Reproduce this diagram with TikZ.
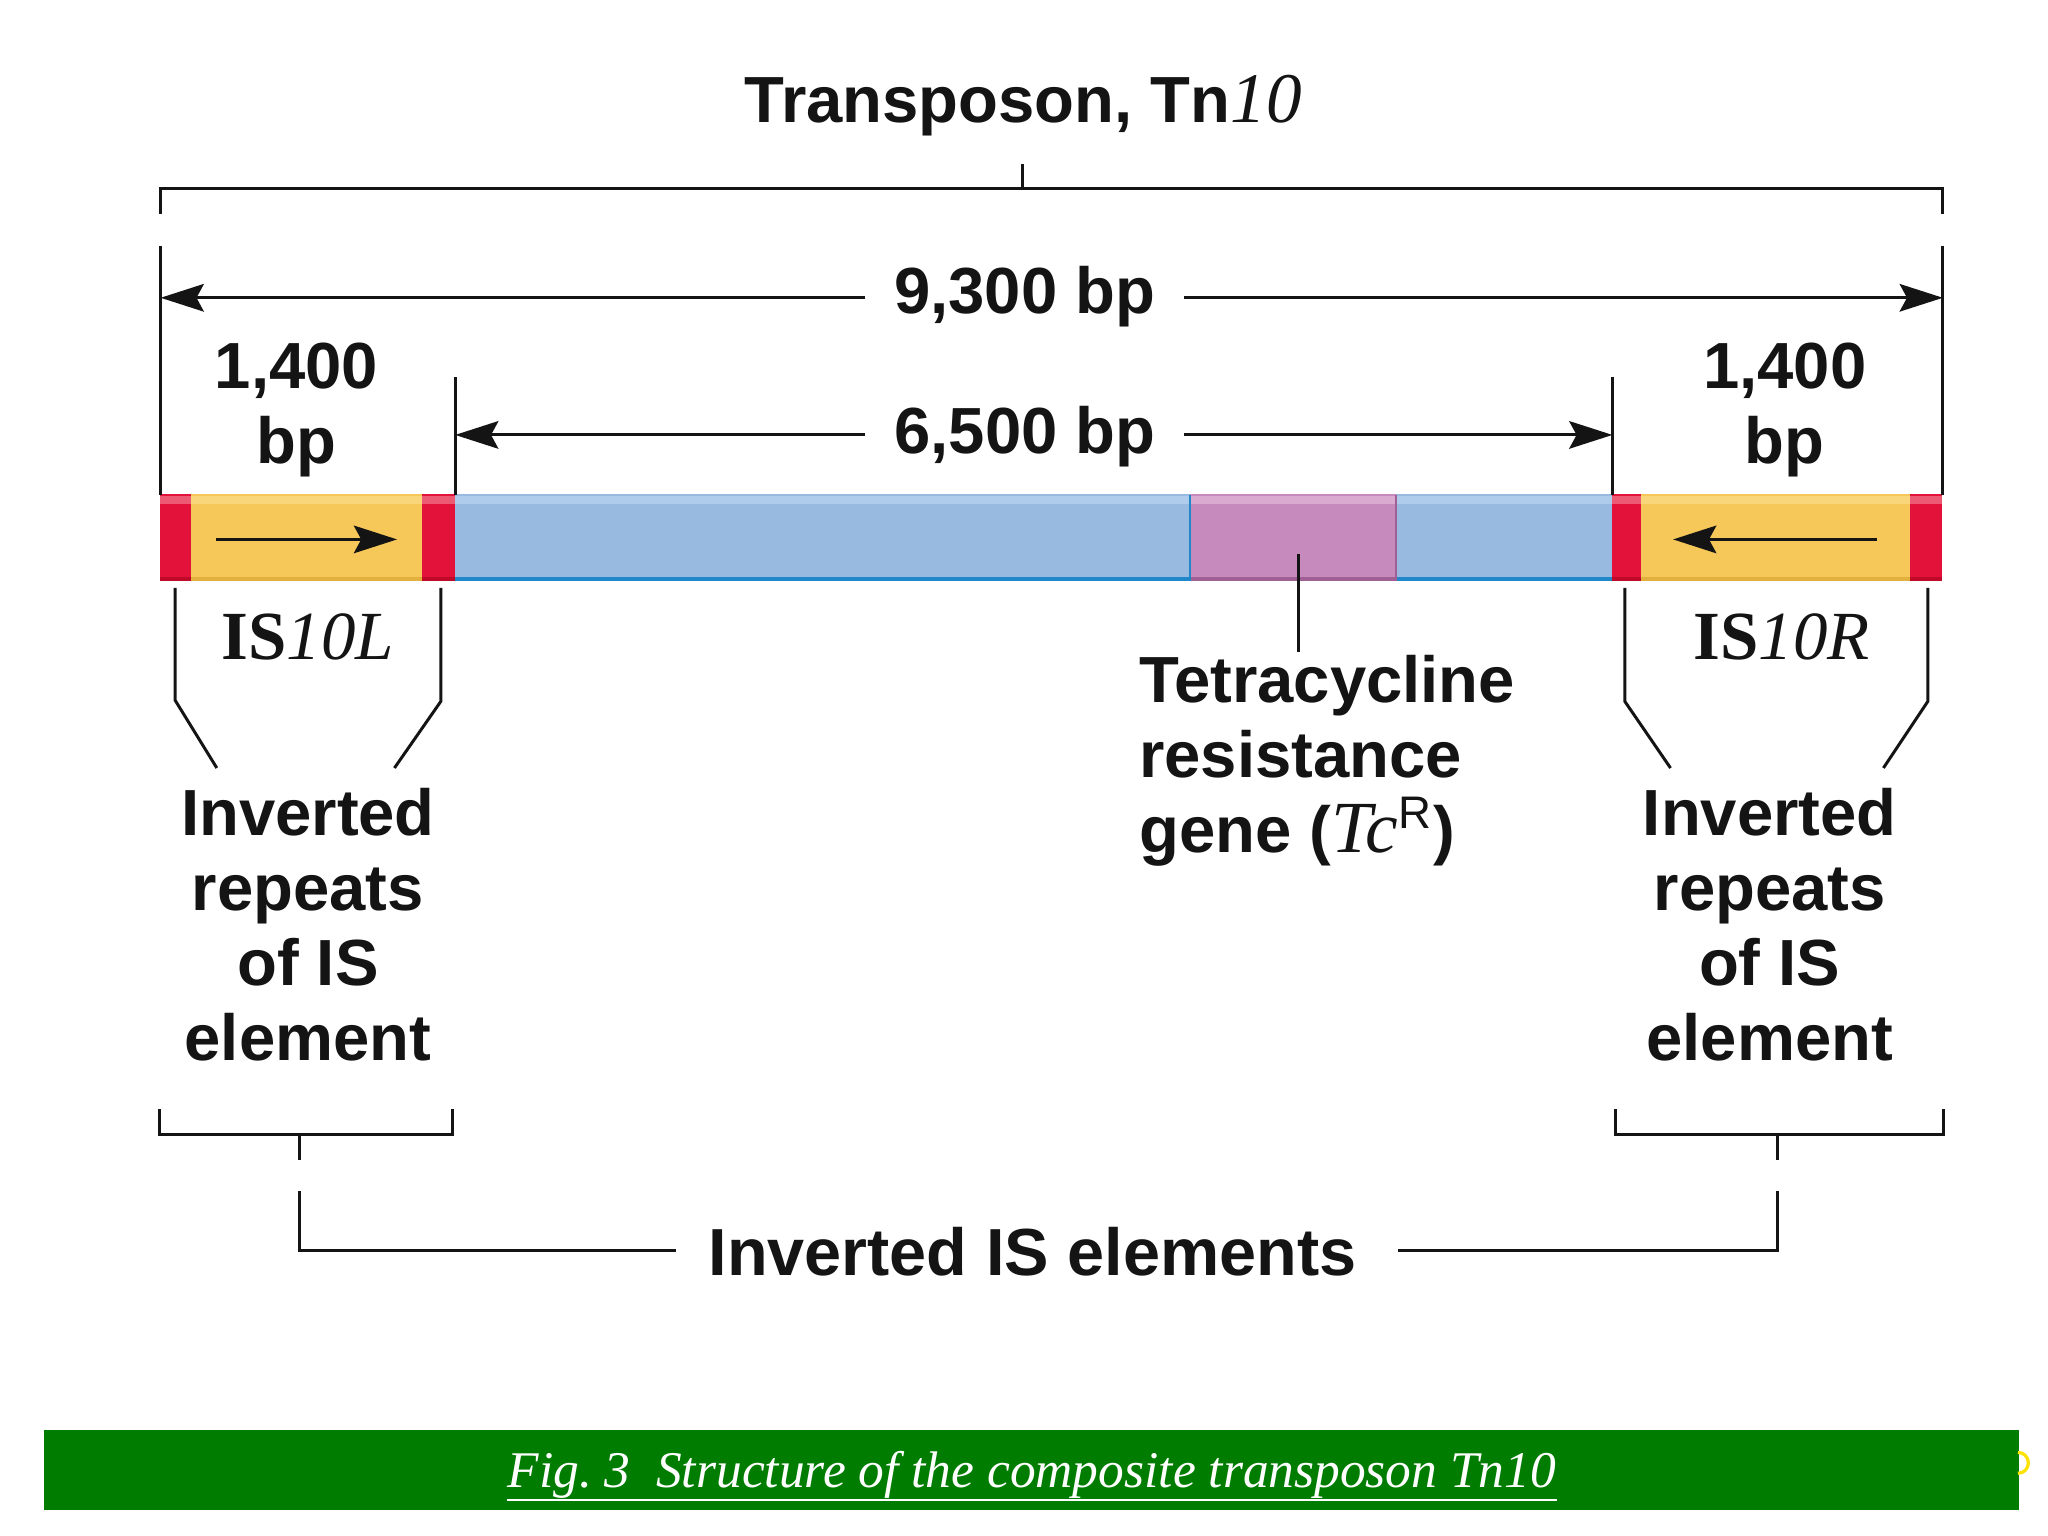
\documentclass[tikz,border=0pt]{standalone}
\usepackage{fontspec}
\setmainfont{Liberation Serif}
\setsansfont{Liberation Sans}
\usetikzlibrary{arrows.meta,calc}
\definecolor{redM}{RGB}{226,18,58}
\definecolor{redL}{RGB}{236,90,115}
\definecolor{redD}{RGB}{190,10,40}
\definecolor{yelM}{RGB}{246,200,90}
\definecolor{yelL}{RGB}{249,214,122}
\definecolor{yelD}{RGB}{226,176,62}
\definecolor{bluM}{RGB}{152,186,225}
\definecolor{bluL}{RGB}{176,204,236}
\definecolor{bluD}{RGB}{32,136,200}
\definecolor{pnkM}{RGB}{198,138,188}
\definecolor{pnkL}{RGB}{218,170,208}
\definecolor{pnkD}{RGB}{160,96,150}
\definecolor{capgreen}{RGB}{0,125,0}
\definecolor{inkc}{RGB}{20,20,20}
\newcommand\lblfont{\fontsize{14.2}{16.36}\selectfont\sffamily\bfseries}
\newcommand\tnseg[6]{%
  \fill[#4] (#2,378) rectangle (#3,445);
  \fill[#5] (#2,379.5) rectangle (#3,386);
  \fill[#6] (#2,441.5) rectangle (#3,445);
  \coordinate (#1) at ({(#2+#3)/2},411.5);}
\begin{document}
\begin{tikzpicture}[x=0.01cm,y=-0.01cm,
  lbl/.style={font=\lblfont, inner sep=0pt, text=inkc},
  ln/.style={draw=inkc, line width=0.65pt},
  dimarrow/.style={ln, -{Stealth[length=9.4pt,width=6pt,inset=1.6pt]}}]
\useasboundingbox (0,0) rectangle (1568,1176);
\fill[white] (0,0) rectangle (1568,1176);
% ---- bar segments ----
\tnseg{redA}{122.5}{146}{redM}{redL}{redD}
\tnseg{yelA}{146}{323}{yelM}{yelL}{yelD}
\tnseg{redB}{323}{348}{redM}{redL}{redD}
\tnseg{bluA}{348}{911}{bluM}{bluL}{bluD}
\tnseg{pnkA}{911}{1069}{pnkM}{pnkL}{pnkD}
\tnseg{bluB}{1069}{1234}{bluM}{bluL}{bluD}
\tnseg{redC}{1234}{1256.5}{redM}{redL}{redD}
\tnseg{yelB}{1256.5}{1462.5}{yelM}{yelL}{yelD}
\tnseg{redE}{1462.5}{1487}{redM}{redL}{redD}
\draw[bluD, line width=0.5pt] (911,379) -- (911,445);
\draw[pnkD, line width=0.5pt] (1069,379) -- (1069,445);
% ---- coordinates ----
\coordinate (tbL) at (123,164);
\coordinate (tbLc) at (123,144);
\coordinate (tbR) at (1487.5,164);
\coordinate (tbRc) at (1487.5,144);
\coordinate (tbM) at (782.5,144);
\coordinate (tbMt) at (782.5,125.6);
\coordinate (vLt) at (123,188);
\coordinate (vLb) at (123,379);
\coordinate (vRt) at (1487.5,188);
\coordinate (vRb) at (1487.5,379);
\coordinate (iLt) at (348.5,289);
\coordinate (iLb) at (348.5,379);
\coordinate (iRt) at (1234.5,289);
\coordinate (iRb) at (1234.5,379);
\coordinate (a9l) at (662.6,228);
\coordinate (a9r) at (906.6,228);
\coordinate (a9L) at (123,228);
\coordinate (a9R) at (1487.5,228);
\coordinate (a6l) at (662.6,333);
\coordinate (a6r) at (906.6,333);
\coordinate (a6L) at (348.5,333);
\coordinate (a6R) at (1234.5,333);
% ---- texts (base anchor of multi-line nodes = last line) ----
\node[lbl, anchor=base] (title) at (783.5,94) {Transposon, Tn{\fontsize{15.5}{16}\selectfont\rmfamily\mdseries\itshape 10}};
\node[lbl, anchor=base] (n9300) at (784.6,240) {9,300 bp};
\node[lbl, anchor=base] (n6500) at (784.7,347) {6,500 bp};
\node[lbl, anchor=base, align=center] (bpL) at (227,355) {1,400\\bp};
\node[lbl, anchor=base, align=center] (bpR) at (1366.5,355) {1,400\\bp};
\node[anchor=base, inner sep=0pt, text=inkc, font=\fontsize{15}{16}\selectfont\rmfamily] (isL) at (235.7,504.6) {\bfseries IS\mdseries\itshape 10L};
\node[anchor=base, inner sep=0pt, text=inkc, font=\fontsize{15}{16}\selectfont\rmfamily] (isR) at (1364,504.6) {\bfseries IS\mdseries\itshape 10R};
\node[lbl, anchor=base west, align=left] (tet) at (871.5,653) {Tetracycline\\resistance\\gene ({\fontsize{16}{16}\selectfont\rmfamily\mdseries\itshape Tc}\textsuperscript{\mdseries R})};
\node[lbl, anchor=base, align=center] (irL) at (235.8,812) {Inverted\\repeats\\of IS\\element};
\node[lbl, anchor=base, align=center] (irR) at (1355,812) {Inverted\\repeats\\of IS\\element};
\node[lbl, anchor=base, font=\fontsize{14.5}{16}\selectfont\sffamily\bfseries] (iis) at (790.5,976.5) {Inverted IS elements};
% ---- top bracket and dimension lines ----
\draw[ln] (tbL) -- (tbLc) -- (tbRc) -- (tbR);
\draw[ln] (tbM) -- (tbMt);
\draw[ln] (vLt) -- (vLb);
\draw[ln] (vRt) -- (vRb);
\draw[ln] (iLt) -- (iLb);
\draw[ln] (iRt) -- (iRb);
\draw[dimarrow] (a9l) -- (a9L);
\draw[dimarrow] (a9r) -- (a9R);
\draw[dimarrow] (a6l) -- (a6L);
\draw[dimarrow] (a6r) -- (a6R);
% ---- arrows inside IS elements ----
\coordinate (yaS) at (165,413);
\coordinate (yaE) at (304,413);
\coordinate (ybS) at (1437,413);
\coordinate (ybE) at (1281,413);
\draw[dimarrow] (yaS) -- (yaE);
\draw[dimarrow] (ybS) -- (ybE);
% ---- leader lines below bar ----
\draw[ln] (134,450) -- (134,536) -- (166,588);
\draw[ln] (337.5,450) -- (337.5,537) -- (302,588);
\draw[ln] (1244,450) -- (1244,537) -- (1279,588);
\draw[ln] (1476,450) -- (1476,537) -- (1442,588);
\coordinate (tcA) at (994,424);
\coordinate (tcB) at (994,499);
\draw[ln] (tcA) -- (tcB);
% ---- bottom brackets ----
\draw[ln] (122,849) -- (122,868.7) -- (346.5,868.7) -- (346.5,849);
\draw[ln] (229,868.7) -- (229,888);
\draw[ln] (229,912) -- (229,957.6) -- (517.5,957.6);
\draw[ln] (1236.6,849) -- (1236.6,868.7) -- (1488,868.7) -- (1488,849);
\draw[ln] (1360.7,868.7) -- (1360.7,888);
\draw[ln] (1360.7,912) -- (1360.7,957.6) -- (1070,957.6);
% ---- caption ----
\fill[capgreen] (33.5,1094.5) rectangle (1545.6,1156);
\node[anchor=base, inner sep=0pt, text=white, font=\fontsize{11.2}{13}\selectfont\rmfamily\itshape] (cap) at (790,1139) {Fig.~3\hspace{0.5em}Structure of the composite transposon Tn10};
\draw[white, line width=0.45pt] ([yshift=-2.7pt]cap.base west) -- ([yshift=-2.7pt]cap.base east);
\draw[yellow!85!orange, line width=0.7pt] (1545,1128) arc[start angle=90, end angle=-90, radius=8];
\end{tikzpicture}
\end{document}
